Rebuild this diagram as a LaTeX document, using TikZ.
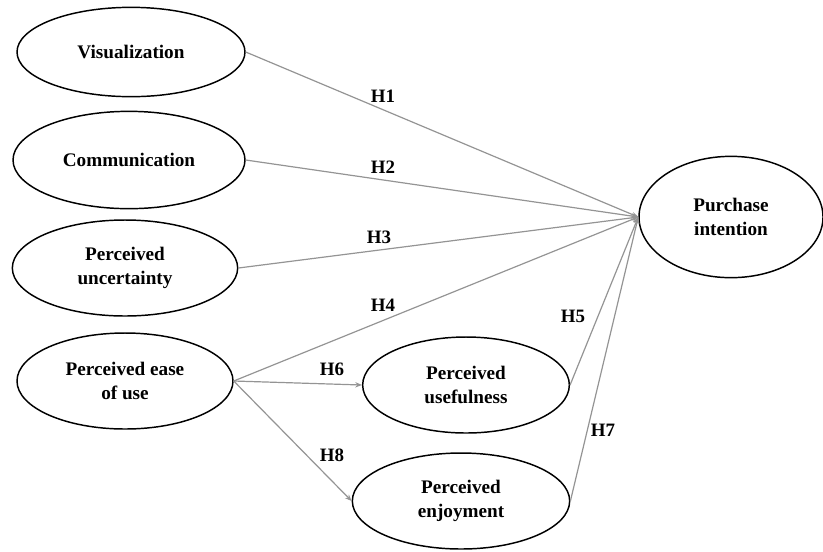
\documentclass[tikz,border=0pt]{standalone}
\usepackage{fontspec}
\setmainfont{Liberation Serif}
\usetikzlibrary{shapes.geometric,arrows.meta}
\tikzset{
  construct/.style={ellipse, draw=black, line width=1.1pt, inner sep=0pt, align=center,
    font=\fontsize{14.4pt}{17.5pt}\selectfont\bfseries},
  path/.style={draw=black!42, line width=0.9pt, -{Stealth[length=5pt,width=4pt]}},
  hlabel/.style={font=\fontsize{14.2pt}{16pt}\selectfont\bfseries, inner sep=0pt}
}
\begin{document}
\begin{tikzpicture}[x=0.75pt,y=-0.75pt]
\useasboundingbox (0,0) rectangle (823,551);
\node[construct, minimum width=171pt, minimum height=67pt] (vis) at (131,52) {Visualization};
\node[construct, minimum width=174pt, minimum height=73pt] (com) at (129,160) {Communication};
\node[construct, minimum width=169pt, minimum height=72pt] (unc) at (125,268) {Perceived\\uncertainty};
\node[construct, minimum width=162pt, minimum height=72pt] (eou) at (125,381) {Perceived ease\\of use};
\node[construct, minimum width=155pt, minimum height=72pt] (usf) at (466,385) {Perceived\\usefulness};
\node[construct, minimum width=163pt, minimum height=72pt] (enj) at (461,501) {Perceived\\enjoyment};
\node[construct, minimum width=138pt, minimum height=91pt] (pi) at (731,217) {Purchase\\intention};

\draw[path] (vis.east) -- (pi.west);
\draw[path] (com.east) -- (pi.west);
\draw[path] (unc.east) -- (pi.west);
\draw[path] (eou.east) -- (pi.west);
\draw[path] (usf.east) -- (pi.west);
\draw[path] (enj.east) -- (pi.west);
\draw[path] (eou.east) -- (usf.west);
\draw[path] (eou.east) -- (enj.west);

\node[hlabel] (h1) at (383,96) {H1};
\node[hlabel] (h2) at (383,167) {H2};
\node[hlabel] (h3) at (379,237) {H3};
\node[hlabel] (h4) at (383,305) {H4};
\node[hlabel] (h5) at (573,316) {H5};
\node[hlabel] (h6) at (332,369) {H6};
\node[hlabel] (h7) at (603,430) {H7};
\node[hlabel] (h8) at (332,455) {H8};
\end{tikzpicture}
\end{document}
